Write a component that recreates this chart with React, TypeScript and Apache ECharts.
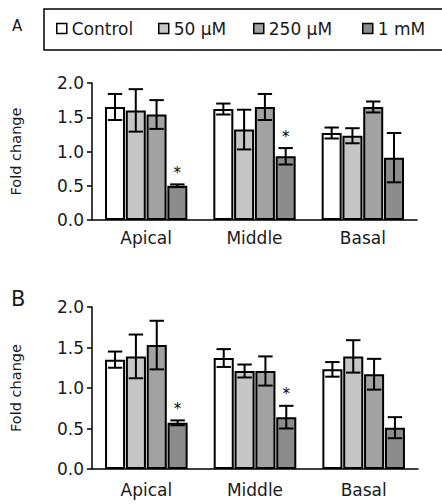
import React, { useEffect, useRef } from "react";
import * as echarts from "echarts";

const categories = ["Apical", "Middle", "Basal"];
const seriesNames = ["Control", "50 µM", "250 µM", "1 mM"];
const seriesColors = ["#ffffff", "#c6c6c6", "#a2a2a2", "#8c8c8c"];

// Panel A
const aControl = [1.65, 1.62, 1.27];
const a50 = [1.6, 1.32, 1.23];
const a250 = [1.54, 1.65, 1.65];
const a1m = [0.5, 0.93, 0.91];
const aControlErr = [0.19, 0.08, 0.08];
const a50Err = [0.31, 0.29, 0.11];
const a250Err = [0.21, 0.19, 0.08];
const a1mErr = [0.02, 0.12, 0.36];
const aSig1m = [1, 1, 0];

// Panel B
const bControl = [1.35, 1.37, 1.23];
const b50 = [1.39, 1.21, 1.39];
const b250 = [1.53, 1.21, 1.17];
const b1m = [0.57, 0.64, 0.51];
const bControlErr = [0.1, 0.11, 0.09];
const b50Err = [0.27, 0.08, 0.2];
const b250Err = [0.3, 0.18, 0.19];
const b1mErr = [0.03, 0.14, 0.13];
const bSig1m = [1, 1, 0];

const yTicks = [0, 0.5, 1.0, 1.5, 2.0];

const FONT = "DejaVu Sans";
const CAT_GAP = 0.24;
const BAR_GAP = 0.04;

function buildPanel(
  gridIndex: number,
  vals: number[][],
  errs: number[][],
  sig: number[]
) {
  const series: any[] = [];
  vals.forEach((arr, s) => {
    series.push({
      type: "bar",
      name: seriesNames[s],
      xAxisIndex: gridIndex,
      yAxisIndex: gridIndex,
      data: arr,
      barCategoryGap: CAT_GAP * 100 + "%",
      barGap: BAR_GAP * 100 + "%",
      itemStyle: { color: seriesColors[s], borderColor: "#000", borderWidth: 2 },
      z: 2,
    });
  });
  const errData: number[][] = [];
  vals.forEach((arr, s) => {
    arr.forEach((v, c) => {
      errData.push([c, s, v, errs[s][c], s === 3 ? sig[c] : 0]);
    });
  });
  series.push({
    type: "custom",
    name: "err" + gridIndex,
    xAxisIndex: gridIndex,
    yAxisIndex: gridIndex,
    data: errData,
    encode: { x: 0, y: 2 },
    itemStyle: { color: "#000" },
    z: 5,
    clip: false,
    renderItem: (params: any, api: any) => {
      const c = api.value(0);
      const s = api.value(1);
      const v = api.value(2);
      const e = api.value(3);
      const sg = api.value(4);
      const center = api.coord([c, v]);
      const band = api.size([1, 0])[0];
      const groupW = band * (1 - CAT_GAP);
      const barW = groupW / (4 + 3 * BAR_GAP);
      const x = center[0] - groupW / 2 + s * barW * (1 + BAR_GAP) + barW / 2;
      const top = api.coord([c, v + e])[1];
      const bot = api.coord([c, v - e])[1];
      const half = barW * 0.36;
      const st = { stroke: "#000", lineWidth: 2 };
      const children: any[] = [
        { type: "line", shape: { x1: x, y1: top, x2: x, y2: bot }, style: st },
        { type: "line", shape: { x1: x - half, y1: top, x2: x + half, y2: top }, style: st },
        { type: "line", shape: { x1: x - half, y1: bot, x2: x + half, y2: bot }, style: st },
      ];
      if (sg) {
        children.push({
          type: "text",
          style: {
            text: "*",
            x: x,
            y: top - 4,
            align: "center",
            verticalAlign: "bottom",
            fontSize: 15,
            fontFamily: FONT,
            fill: "#000",
          },
        });
      }
      return { type: "group", children };
    },
  });
  return series;
}

export default function App() {
  const ref = useRef<HTMLDivElement>(null);
  useEffect(() => {
    if (!ref.current) return;
    const chart = echarts.init(ref.current, null, { renderer: "svg" });
    const axisLabel = { fontSize: 17, fontFamily: FONT, color: "#1a1a1a" };
    const yAxisBase = (gi: number) => ({
      type: "value",
      gridIndex: gi,
      min: yTicks[0],
      max: yTicks[yTicks.length - 1],
      interval: 0.5,
      name: "Fold change",
      nameLocation: "middle",
      nameGap: 69,
      nameRotate: 90,
      nameTextStyle: { fontSize: 14.5, fontFamily: FONT, color: "#1a1a1a" },
      axisLine: { show: true, lineStyle: { color: "#000", width: 1.5 } },
      axisTick: { show: true, length: 5, lineStyle: { color: "#000", width: 1.5 } },
      splitLine: { show: false },
      axisLabel: { ...axisLabel, margin: 8, formatter: (v: number) => v.toFixed(1) },
    });
    const xAxisBase = (gi: number, margin: number) => ({
      type: "category",
      gridIndex: gi,
      data: categories,
      axisLine: { show: true, lineStyle: { color: "#000", width: 1.5 } },
      axisTick: { show: false },
      axisLabel: { ...axisLabel, margin },
    });
    const legendPos = [56, 158, 253, 362];
    const option: any = {
      animation: false,
      backgroundColor: "#fff",
      textStyle: { fontFamily: FONT },
      grid: [
        { left: 87, right: 25, top: 83, height: 137 },
        { left: 90, right: 24, top: 307, height: 162 },
      ],
      legend: seriesNames.map((n, i) => ({
        data: [n],
        left: legendPos[i],
        top: 20,
        padding: 0,
        itemWidth: 10,
        itemHeight: 10,
        icon: "rect",
        itemStyle: { borderColor: "#000", borderWidth: 1.5 },
        textStyle: { fontSize: 17, fontFamily: FONT, color: "#1a1a1a" },
      })),
      xAxis: [xAxisBase(0, 9), xAxisBase(1, 12)],
      yAxis: [yAxisBase(0), yAxisBase(1)],
      graphic: [
        {
          type: "rect",
          shape: { x: 44, y: 9, width: 420, height: 41 },
          style: { fill: "none", stroke: "#000", lineWidth: 1.5 },
        },
        {
          type: "text",
          left: 12,
          top: 18,
          style: { text: "A", fontSize: 15, fontFamily: FONT, fill: "#1a1a1a" },
        },
        {
          type: "text",
          left: 11,
          top: 288,
          style: { text: "B", fontSize: 21, fontFamily: FONT, fill: "#1a1a1a" },
        },
      ],
      series: [
        ...buildPanel(
          0,
          [aControl, a50, a250, a1m],
          [aControlErr, a50Err, a250Err, a1mErr],
          aSig1m
        ),
        ...buildPanel(
          1,
          [bControl, b50, b250, b1m],
          [bControlErr, b50Err, b250Err, b1mErr],
          bSig1m
        ),
      ],
    };
    chart.setOption(option);
    return () => chart.dispose();
  }, []);
  return (
    <div
      ref={ref}
      style={{ position: "fixed", left: 0, top: 0, width: 442, height: 504, background: "#fff" }}
    />
  );
}
